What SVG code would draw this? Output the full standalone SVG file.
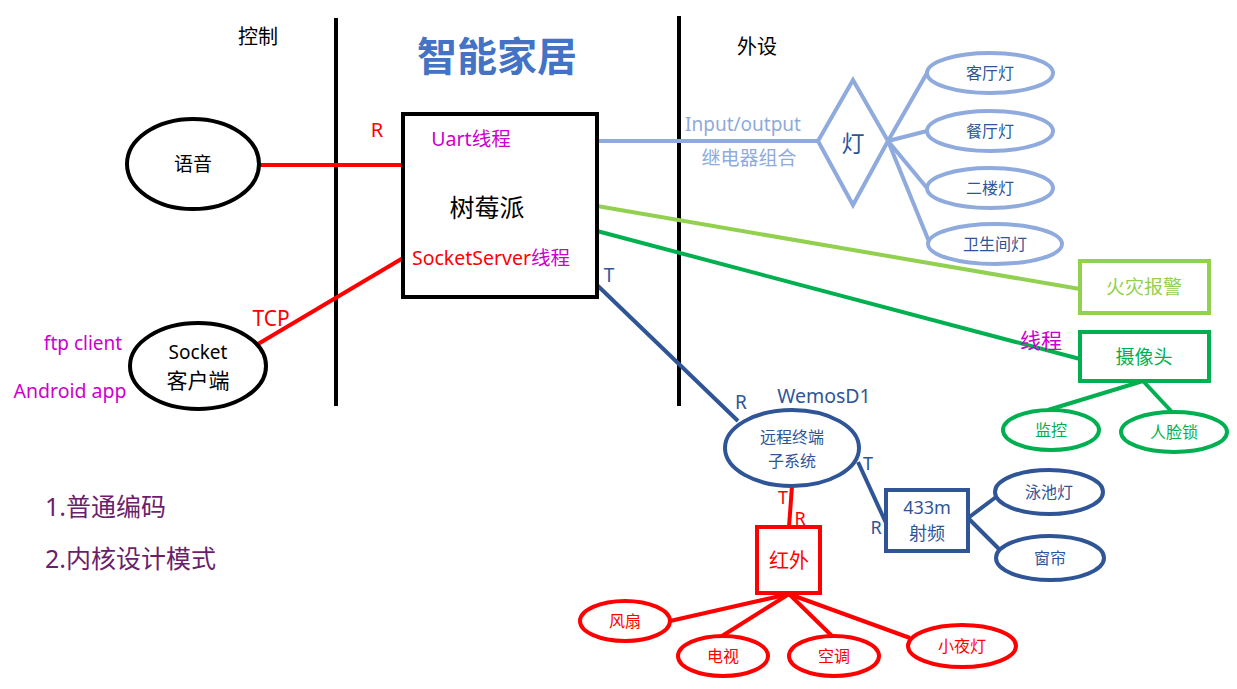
<svg xmlns="http://www.w3.org/2000/svg" width="1237" height="689" viewBox="0 0 1237 689">
<style>
text{font-family:"Noto Sans","Noto Sans CJK SC",sans-serif;text-anchor:middle;dominant-baseline:central}
.blk{stroke:#000;stroke-width:4;fill:#fff}
.lb{stroke:#8FAADC;stroke-width:4;fill:#fff}
.db{stroke:#2F5597;stroke-width:4;fill:#fff}
.rd{stroke:#FF0000;stroke-width:4;fill:#fff}
.gl{stroke:#92D050;stroke-width:4;fill:#fff}
.gd{stroke:#00B050;stroke-width:4;fill:#fff}
.c line{stroke-width:4}
</style>
<rect width="1237" height="689" fill="#fff"/>
<g id="dividers">
<line x1="336" y1="18" x2="336" y2="406" stroke="#000" stroke-width="4"/>
<line x1="679" y1="16" x2="679" y2="406" stroke="#000" stroke-width="4"/>
</g>
<g id="titles">
<text x="497" y="55" font-size="40" font-weight="bold" fill="#4472C4">智能家居</text>
<text x="258" y="36" font-size="20" fill="#000">控制</text>
<text x="757" y="46" font-size="20" fill="#000">外设</text>
<text x="45" y="506" font-size="25" fill="#6B1E6B" style="text-anchor:start">1.普通编码</text>
<text x="45" y="558" font-size="25" fill="#6B1E6B" style="text-anchor:start">2.内核设计模式</text>
</g>
<g class="c" id="connectors">
<line x1="259" y1="165" x2="403" y2="165" stroke="#FF0000"/>
<line x1="258" y1="344" x2="403" y2="258" stroke="#FF0000"/>
<line x1="597" y1="141" x2="818" y2="141" stroke="#8FAADC"/>
<line x1="888" y1="141" x2="927" y2="73" stroke="#8FAADC"/>
<line x1="888" y1="141" x2="927" y2="131" stroke="#8FAADC"/>
<line x1="888" y1="141" x2="927" y2="188" stroke="#8FAADC"/>
<line x1="888" y1="141" x2="930" y2="244" stroke="#8FAADC"/>
<line x1="597" y1="206" x2="1080" y2="289" stroke="#92D050"/>
<line x1="597" y1="231" x2="1080" y2="359" stroke="#00B050"/>
<line x1="1143" y1="381" x2="1048" y2="410" stroke="#00B050"/>
<line x1="1143" y1="381" x2="1172" y2="412" stroke="#00B050"/>
<line x1="597" y1="285" x2="738" y2="421" stroke="#2F5597"/>
<line x1="858" y1="462" x2="886" y2="523" stroke="#2F5597"/>
<line x1="968" y1="518" x2="996" y2="497" stroke="#2F5597"/>
<line x1="968" y1="518" x2="1000" y2="550" stroke="#2F5597"/>
<line x1="792" y1="486" x2="789" y2="527" stroke="#FF0000"/>
<line x1="789" y1="594" x2="670" y2="621" stroke="#FF0000"/>
<line x1="789" y1="594" x2="722" y2="636" stroke="#FF0000"/>
<line x1="789" y1="594" x2="832" y2="636" stroke="#FF0000"/>
<line x1="789" y1="594" x2="910" y2="638" stroke="#FF0000"/>
</g>
<g id="edge-labels">
<text x="377" y="129" font-size="20" fill="#FF0000">R</text>
<text x="271" y="318" font-size="21" fill="#FF0000">TCP</text>
<text x="743" y="124" font-size="19" fill="#8FAADC">Input/output</text>
<text x="749" y="158" font-size="19" fill="#8FAADC">继电器组合</text>
<text x="1041" y="340" font-size="21" fill="#CC00CC">线程</text>
<text x="609" y="275" font-size="19" fill="#2F5597">T</text>
<text x="741" y="402" font-size="19" fill="#2F5597">R</text>
<text x="824" y="395" font-size="19.5" fill="#2F5597">WemosD1</text>
<text x="868" y="463" font-size="18" fill="#2F5597">T</text>
<text x="876" y="527" font-size="18" fill="#2F5597">R</text>
<text x="783" y="497" font-size="18" fill="#FF0000">T</text>
<text x="800" y="518" font-size="18" fill="#FF0000">R</text>
<text x="83" y="343" font-size="19" fill="#CC00CC">ftp client</text>
<text x="70" y="390" font-size="19.5" fill="#CC00CC">Android app</text>
</g>
<g id="yuyin"><ellipse cx="193" cy="164" rx="66" ry="45" class="blk"/><text x="193" y="164" font-size="19">语音</text></g>
<g id="socket"><ellipse cx="198" cy="366" rx="68" ry="43" class="blk"/><text x="198" y="352" font-size="19">Socket</text><text x="198" y="380" font-size="21">客户端</text></g>
<g id="raspi"><rect x="403" y="114" width="194" height="183" class="blk"/>
<text x="471" y="138" font-size="19.5" fill="#CC00CC">Uart线程</text>
<text x="487" y="207" font-size="25" fill="#000">树莓派</text>
<text x="491" y="257" font-size="19.5"><tspan fill="#FF0000">SocketServer</tspan><tspan fill="#CC00CC">线程</tspan></text>
</g>
<g id="deng"><polygon points="853,80 888,141 853,205 818,141" class="lb"/><text x="853" y="143" font-size="23" fill="#2F5597">灯</text></g>
<g id="keting"><ellipse cx="990" cy="73" rx="63" ry="20" class="lb"/><text x="990" y="73" font-size="16" fill="#2F5597">客厅灯</text></g>
<g id="canting"><ellipse cx="990" cy="131" rx="63" ry="20" class="lb"/><text x="990" y="131" font-size="16" fill="#2F5597">餐厅灯</text></g>
<g id="erlou"><ellipse cx="990" cy="188" rx="63" ry="20" class="lb"/><text x="990" y="188" font-size="16" fill="#2F5597">二楼灯</text></g>
<g id="weisheng"><ellipse cx="995" cy="244" rx="67" ry="20" class="lb"/><text x="995" y="244" font-size="16" fill="#2F5597">卫生间灯</text></g>
<g id="fire"><rect x="1080" y="261" width="129" height="52" class="gl"/><text x="1144" y="287" font-size="19" fill="#92D050">火灾报警</text></g>
<g id="camera"><rect x="1080" y="332" width="129" height="49" class="gd"/><text x="1144" y="357" font-size="19" fill="#00B050">摄像头</text></g>
<g id="jiankong"><ellipse cx="1051" cy="430" rx="48" ry="20" class="gd"/><text x="1051" y="430" font-size="16" fill="#00B050">监控</text></g>
<g id="renlian"><ellipse cx="1174" cy="432" rx="53" ry="20" class="gd"/><text x="1174" y="432" font-size="16" fill="#00B050">人脸锁</text></g>
<g id="remote"><ellipse cx="792" cy="448" rx="67" ry="38" class="db"/><text x="792" y="437" font-size="16" fill="#2F5597">远程终端</text><text x="792" y="461" font-size="16" fill="#2F5597">子系统</text></g>
<g id="rf433"><rect x="886" y="490" width="82" height="61" class="db"/><text x="927" y="507" font-size="18" fill="#2F5597">433m</text><text x="927" y="533" font-size="18" fill="#2F5597">射频</text></g>
<g id="yongchi"><ellipse cx="1049" cy="492" rx="54" ry="22" class="db"/><text x="1049" y="492" font-size="16" fill="#2F5597">泳池灯</text></g>
<g id="chuanglian"><ellipse cx="1050" cy="558" rx="54" ry="22" class="db"/><text x="1050" y="558" font-size="16" fill="#2F5597">窗帘</text></g>
<g id="hongwai"><rect x="757" y="527" width="63" height="66" class="rd"/><text x="789" y="560" font-size="20" fill="#FF0000">红外</text></g>
<g id="fengshan"><ellipse cx="625" cy="621" rx="45" ry="20" class="rd"/><text x="625" y="621" font-size="16" fill="#FF0000">风扇</text></g>
<g id="dianshi"><ellipse cx="723" cy="656" rx="45" ry="20" class="rd"/><text x="723" y="656" font-size="16" fill="#FF0000">电视</text></g>
<g id="kongtiao"><ellipse cx="834" cy="656" rx="45" ry="20" class="rd"/><text x="834" y="656" font-size="16" fill="#FF0000">空调</text></g>
<g id="xiaoye"><ellipse cx="962" cy="646" rx="54" ry="21" class="rd"/><text x="962" y="646" font-size="16" fill="#FF0000">小夜灯</text></g>
</svg>
